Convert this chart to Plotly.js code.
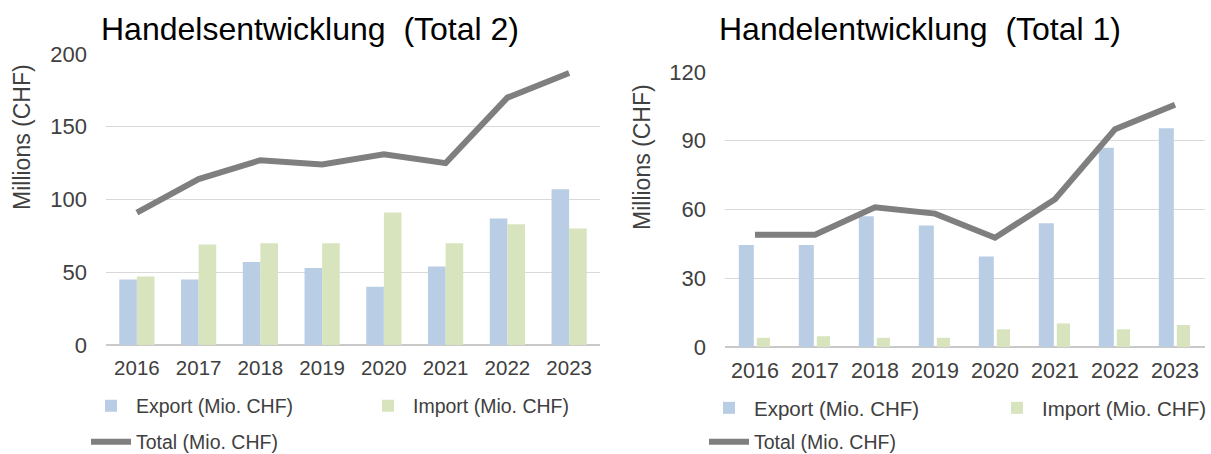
<!DOCTYPE html>
<html>
<head>
<meta charset="utf-8">
<script src="https://cdn.plot.ly/plotly-3.0.1.min.js"></script>
<style>html,body{margin:0;padding:0;background:#fff;}#chart{width:1211px;height:454px;}</style>
</head>
<body>
<div id="chart"></div>
<script>
// ---- data ----
const years = ["2016","2017","2018","2019","2020","2021","2022","2023"];
// Handelsentwicklung (Total 2)
const export2 = [45, 45, 57, 53, 40, 54, 87, 107];
const import2 = [47, 69, 70, 70, 91, 70, 83, 80];
const total2  = [91, 114, 127, 124, 131, 125, 170, 187];
// Handelentwicklung (Total 1)
const export1 = [44.5, 44.5, 57, 53, 39.5, 54, 87, 95.5];
const import1 = [4, 4.7, 4, 4, 7.7, 10.3, 7.7, 9.6];
const total1  = [49, 49, 61, 58.2, 47.7, 64.5, 95, 105.7];
const titles = ["Handelsentwicklung\u00a0 (Total 2)", "Handelentwicklung\u00a0 (Total 1)"];
const yTitle = "Millions (CHF)";
const names = ["Export (Mio. CHF)", "Import (Mio. CHF)", "Total (Mio. CHF)"];

// ---- style ----
const W = 1211, H = 454;
const cExport = "#b9cde5", cImport = "#d7e4bd", cTotal = "#7f7f7f";
const FONT = "Liberation Sans, Arial, sans-serif";
const txt = "#404040";
const px = v => v / W;
const py = v => 1 - v / H;

const traces = [
  {type:"bar", x:years, y:export2, name:names[0], xaxis:"x", yaxis:"y", marker:{color:cExport}, width:0.285, offset:-0.285, legend:"legend"},
  {type:"bar", x:years, y:import2, name:names[1], xaxis:"x", yaxis:"y", marker:{color:cImport}, width:0.285, offset:0, legend:"legend"},
  {type:"scatter", mode:"lines", x:years, y:total2, name:names[2], xaxis:"x", yaxis:"y", line:{color:cTotal, width:6}, legend:"legend2"},
  {type:"bar", x:years, y:export1, name:names[0], xaxis:"x2", yaxis:"y2", marker:{color:cExport}, width:0.25, offset:-0.27, legend:"legend3"},
  {type:"bar", x:years, y:import1, name:names[1], xaxis:"x2", yaxis:"y2", marker:{color:cImport}, width:0.22, offset:0.03, legend:"legend3"},
  {type:"scatter", mode:"lines", x:years, y:total1, name:names[2], xaxis:"x2", yaxis:"y2", line:{color:cTotal, width:6}, legend:"legend4"}
];

const xax = (d, so, fs) => ({domain:d, type:"category", showgrid:false, zeroline:false, showline:false,
  ticks:"", tickangle:0, tickfont:{family:FONT, size:fs, color:txt}, ticklabelstandoff:so, fixedrange:true});
const yax = (d, r, dt, anchor) => ({domain:d, range:r, dtick:dt, anchor:anchor, showgrid:true, gridcolor:"#d9d9d9", gridwidth:1.2,
  zeroline:true, zerolinecolor:"#c9c9c9", zerolinewidth:2, showline:false, ticks:"",
  tickfont:{family:FONT, size:22, color:txt}, ticklabelstandoff:18, fixedrange:true});

const legBase = (x, y, fs) => ({orientation:"h", x:px(x), y:py(y), xanchor:"left", yanchor:"middle",
  font:{family:FONT, size:fs, color:txt}, bgcolor:"rgba(0,0,0,0)", entrywidthmode:"pixels", itemwidth:40});

const layout = {
  width:W, height:H, margin:{l:0, r:0, t:0, b:0, autoexpand:false}, paper_bgcolor:"#fff", plot_bgcolor:"#fff",
  showlegend:true, barmode:"group",
  xaxis: Object.assign(xax([px(106), px(600)], 8, 20.5), {anchor:"y"}),
  yaxis: yax([py(345), py(54)], [0, 200], 50, "x"),
  xaxis2: Object.assign(xax([px(725), px(1205)], 8, 21.5), {anchor:"y2"}),
  yaxis2: yax([py(347), py(72)], [0, 120], 30, "x2"),
  legend: Object.assign(legBase(86, 406, 19.5), {entrywidth:222}),
  legend2: legBase(86, 442, 19.5),
  legend3: Object.assign(legBase(704, 408, 20.5), {entrywidth:233}),
  legend4: legBase(704, 442, 19.5),
  annotations: [
    {text:titles[0], xref:"paper", yref:"paper", x:px(99), y:py(29), xanchor:"left", yanchor:"middle", showarrow:false, font:{family:FONT, size:32, color:"#000"}},
    {text:titles[1], xref:"paper", yref:"paper", x:px(717), y:py(29), xanchor:"left", yanchor:"middle", showarrow:false, font:{family:FONT, size:32, color:"#000"}},
    {text:yTitle, xref:"paper", yref:"paper", x:px(22), y:py(137), xanchor:"center", yanchor:"middle", textangle:-90, showarrow:false, font:{family:FONT, size:23, color:txt}},
    {text:yTitle, xref:"paper", yref:"paper", x:px(642), y:py(157), xanchor:"center", yanchor:"middle", textangle:-90, showarrow:false, font:{family:FONT, size:23, color:txt}}
  ]
};

Plotly.newPlot("chart", traces, layout, {displayModeBar:false, staticPlot:true});
</script>
</body>
</html>
